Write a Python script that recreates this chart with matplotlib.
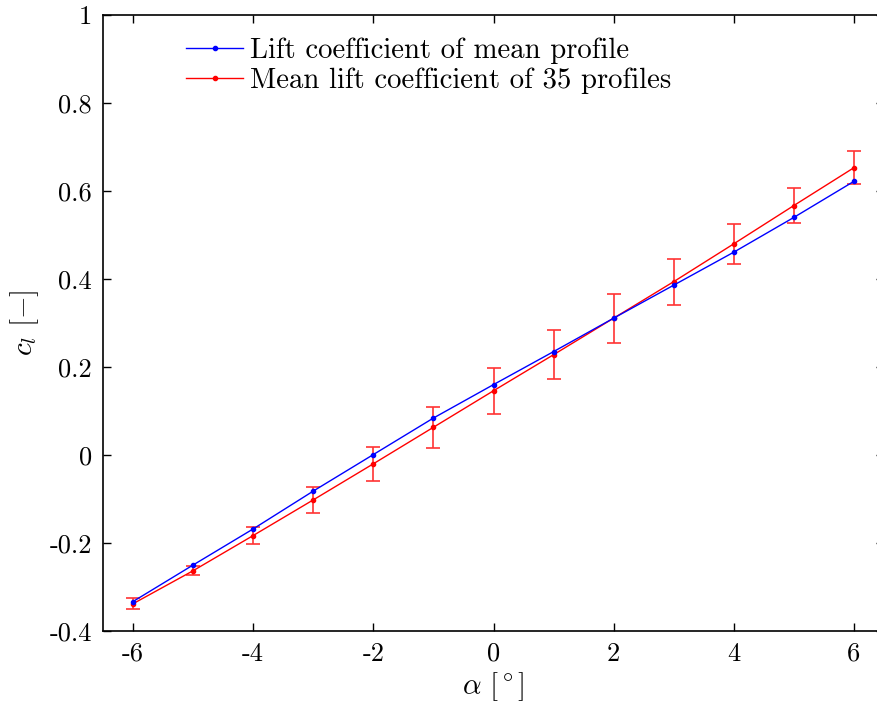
import matplotlib
matplotlib.use("Agg")
import matplotlib.pyplot as plt
from matplotlib.ticker import FuncFormatter

plt.rcParams['font.family'] = 'serif'
plt.rcParams['font.serif'] = ['cmr10']
plt.rcParams['mathtext.fontset'] = 'cm'
plt.rcParams['axes.unicode_minus'] = False
plt.rcParams['axes.formatter.use_mathtext'] = True

# angle of attack
alpha = [-6, -5, -4, -3, -2, -1, 0, 1, 2, 3, 4, 5, 6]
# lift coefficient of mean profile
cl_mean_profile = [-0.333, -0.250, -0.168, -0.082, 0.001, 0.084, 0.160,
                   0.235, 0.311, 0.386, 0.461, 0.540, 0.622]
# mean lift coefficient of 35 profiles + spread
cl_mean_35 = [-0.338, -0.263, -0.183, -0.102, -0.020, 0.063, 0.146,
              0.228, 0.311, 0.394, 0.480, 0.567, 0.653]
cl_err = [0.012, 0.010, 0.019, 0.029, 0.038, 0.046, 0.052,
          0.056, 0.056, 0.052, 0.045, 0.040, 0.037]

fig = plt.figure(figsize=(8.78, 7.08), dpi=100)
ax = fig.add_axes([103/878, 77/708, 781/878, 616/708])

ax.plot(alpha, cl_mean_profile, color='blue', lw=1.0, marker='o', ms=3,
        label='Lift coefficient of mean profile', zorder=3)
ax.errorbar(alpha, cl_mean_35, yerr=cl_err, fmt='none',
            ecolor=(1, 0.2, 0.2), elinewidth=1.2, capsize=4.8, capthick=1.2, zorder=2)
ax.plot(alpha, cl_mean_35, color='red', lw=1.0, marker='o', ms=3,
        label='Mean lift coefficient of 35 profiles', zorder=2)

ax.set_xlim(-6.5, 6.5)
ax.set_ylim(-0.4, 1.0)
ax.set_xticks([-6, -4, -2, 0, 2, 4, 6])
ax.set_yticks([-0.4, -0.2, 0, 0.2, 0.4, 0.6, 0.8, 1.0])
ax.yaxis.set_major_formatter(FuncFormatter(lambda v, p: '%g' % round(v, 2)))
ax.xaxis.set_major_formatter(FuncFormatter(lambda v, p: '%g' % v))
ax.tick_params(direction='in', top=True, right=True, length=6, width=1.0,
               labelsize=19, pad=8)
for s in ax.spines.values():
    s.set_linewidth(1.2)

ax.set_xlabel(r'$\alpha\ [^\circ]$', fontsize=21, labelpad=3)
ax.set_ylabel(r'$c_l\ [-]$', fontsize=21, labelpad=6)

h, l = ax.get_legend_handles_labels()
fig.legend(h, l, loc='upper left', bbox_to_anchor=(186/878, 1 - 38/708),
           frameon=False, fontsize=20.7, handlelength=2.0, handletextpad=0.22,
           labelspacing=0.1, borderpad=0, borderaxespad=0)

fig.savefig('out.png', dpi=100)
